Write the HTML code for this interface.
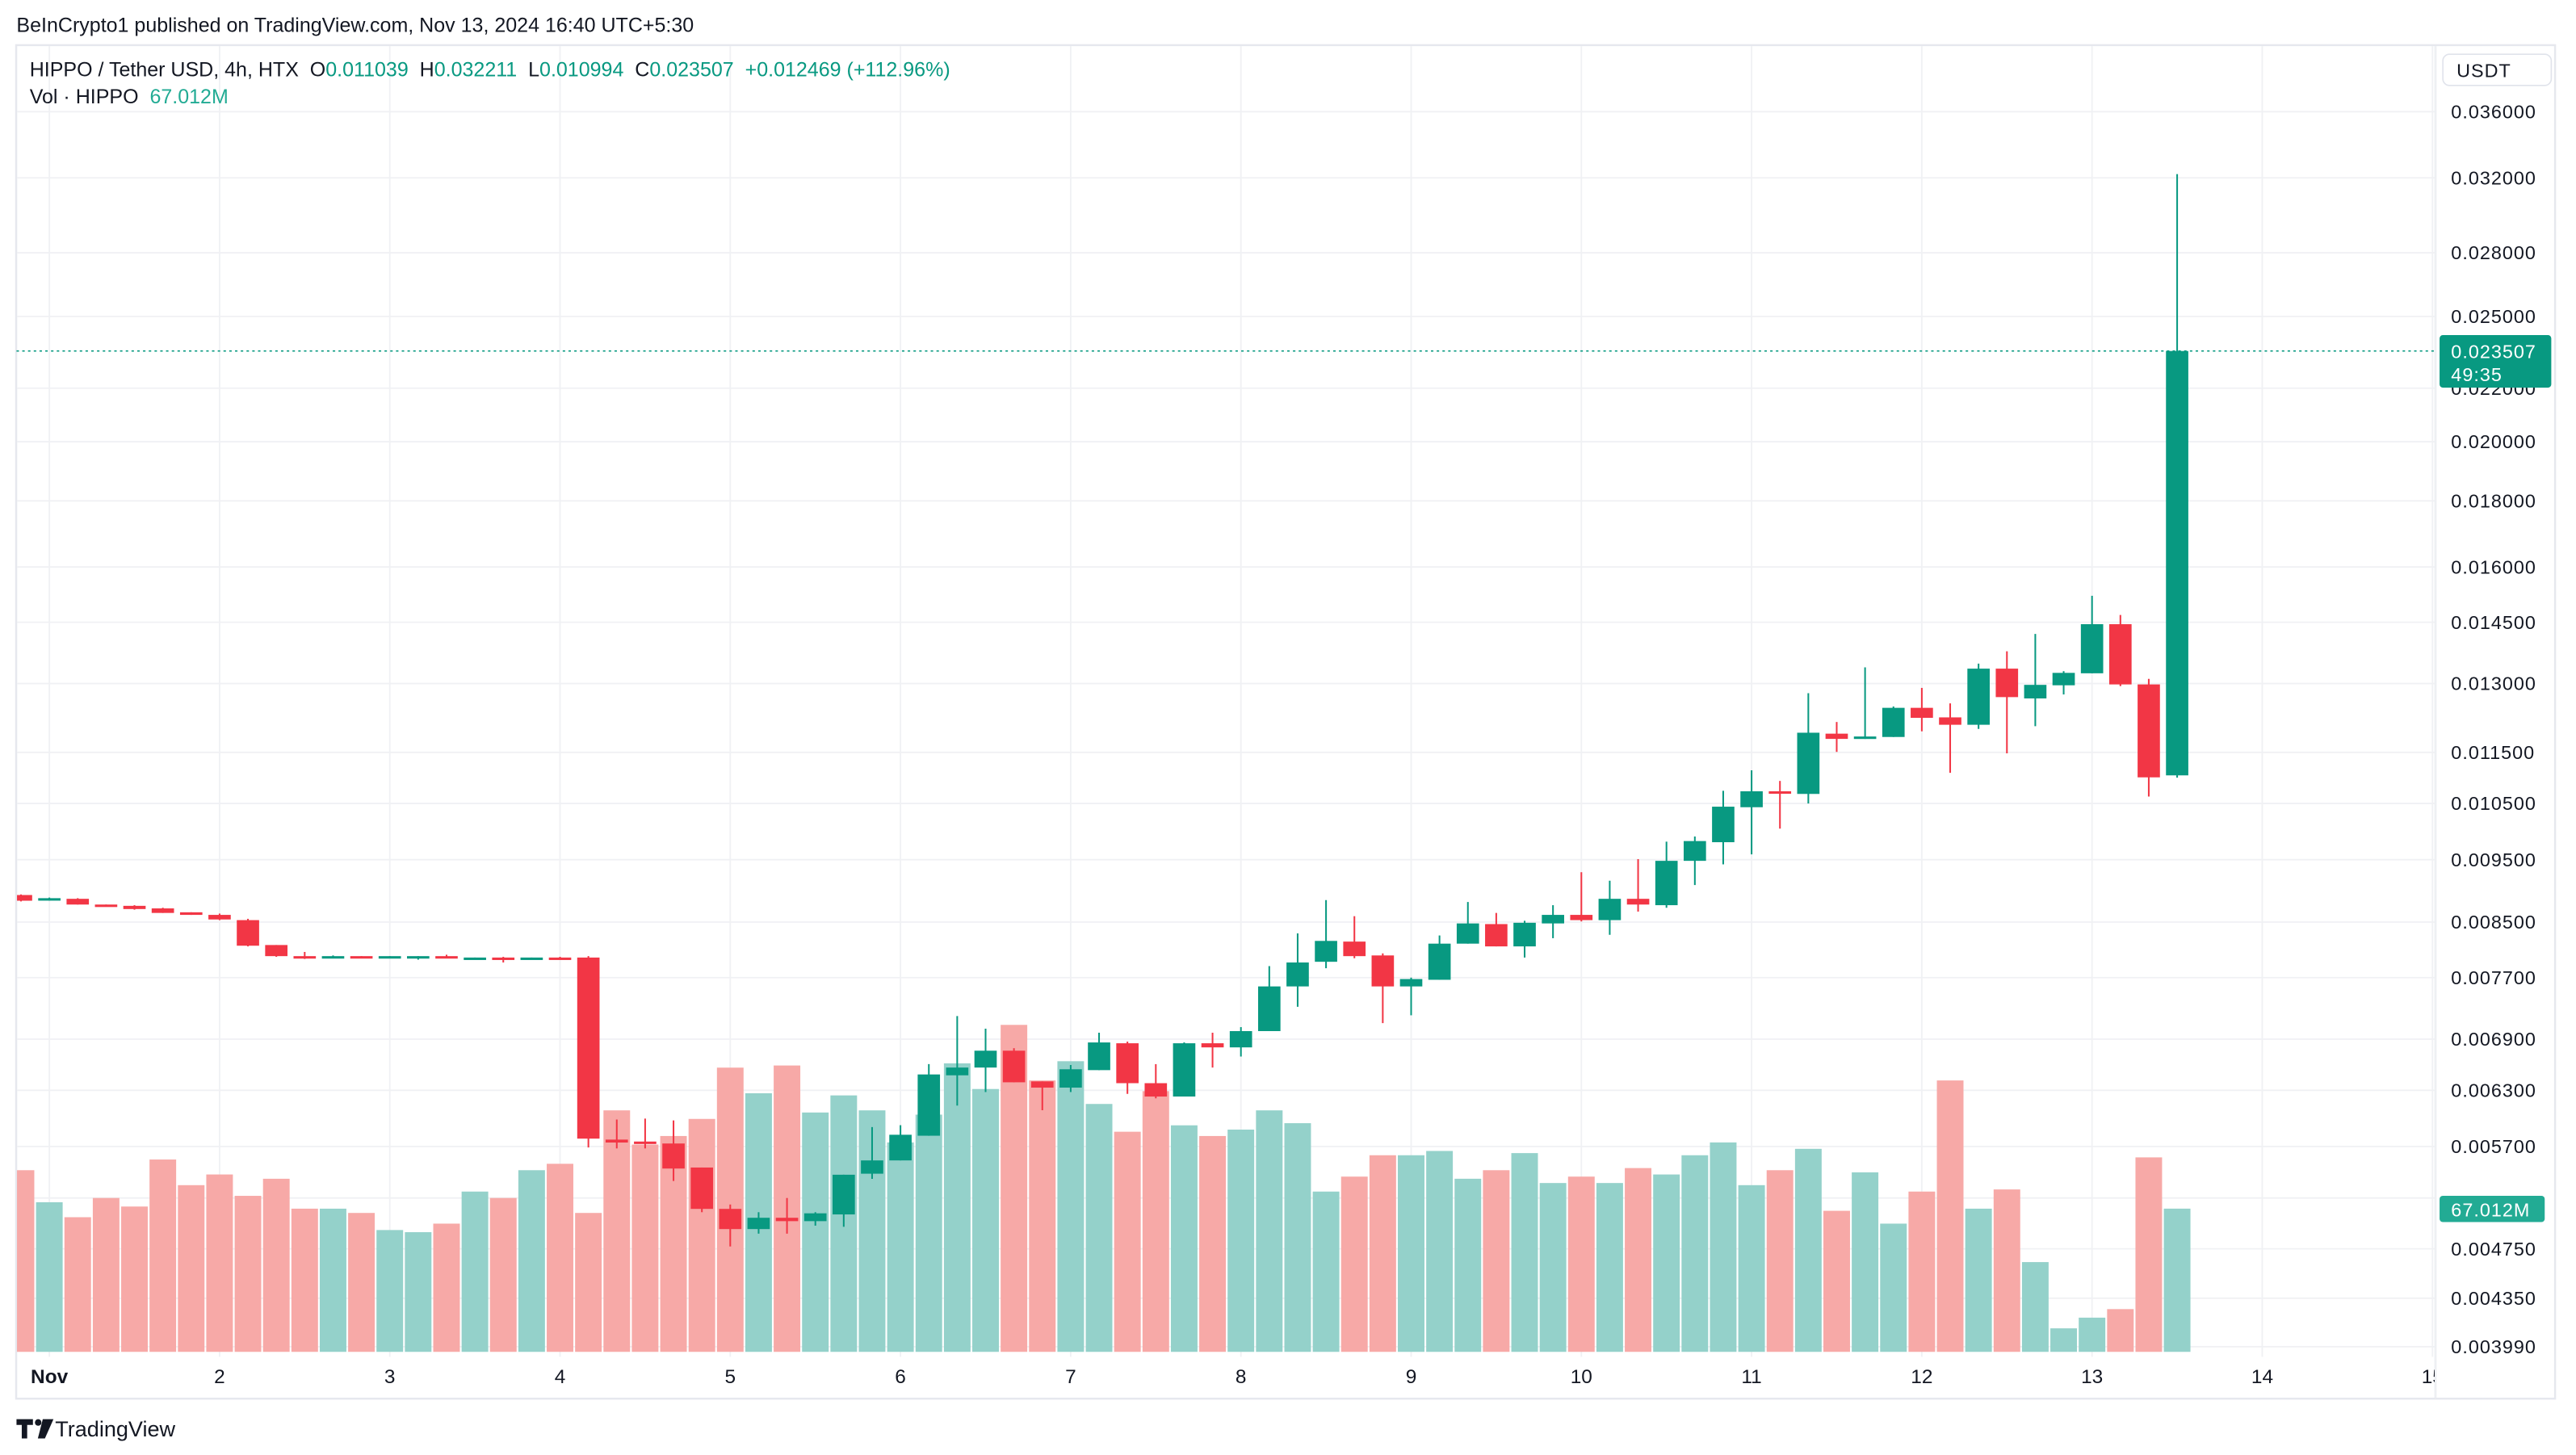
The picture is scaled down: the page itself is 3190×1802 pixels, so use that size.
<!DOCTYPE html>
<html><head><meta charset="utf-8"><style>
html,body{margin:0;padding:0;background:#fff;}
svg{display:block;}
text{font-family:"Liberation Sans",sans-serif;}
</style></head><body>
<svg id="chart" xmlns="http://www.w3.org/2000/svg" width="3190" height="1802" viewBox="0 0 1568 885.8">
<rect x="0" y="0" width="1568" height="885.8" fill="#ffffff"/>
<text x="10" y="19.5" font-size="12.3" fill="#131722">BeInCrypto1 published on TradingView.com, Nov 13, 2024 16:40 UTC+5:30</text>
<rect x="9.8" y="27.5" width="1545.5" height="824" fill="none" stroke="#e6e8ee" stroke-width="1.2"/>
<g id="grid"></g>
<g clip-path="url(#plotclip)">
<g id="vols"></g>
<g id="candles"></g>
</g>
<defs>
<clipPath id="plotclip"><rect x="10.3" y="28" width="1471.7" height="798"/></clipPath>
<clipPath id="timeclip"><rect x="10.3" y="826" width="1471.7" height="25"/></clipPath>
</defs>
<line x1="10" y1="213.7" x2="1482" y2="213.7" stroke="#089981" stroke-width="0.8" stroke-dasharray="1.5,2"/>
<line x1="1482.5" y1="28" x2="1482.5" y2="851" stroke="#eef0f3" stroke-width="1.4"/>
<g id="yaxis"></g>
<g id="xaxis" clip-path="url(#timeclip)"></g>
<rect x="1487" y="33" width="66" height="19" rx="4" fill="#fff" stroke="#e0e3eb" stroke-width="0.8"/>
<text x="1512" y="47" font-size="11.5" fill="#131722" text-anchor="middle" letter-spacing="0.5">USDT</text>
<g>
<rect x="1485" y="204" width="68" height="32" rx="2" fill="#089981"/>
<text x="1492" y="218" font-size="11.5" fill="#fff" letter-spacing="0.5">0.023507</text>
<text x="1492" y="232" font-size="11.5" fill="#fff" letter-spacing="0.5">49:35</text>
</g>
<g>
<rect x="1485" y="728" width="64" height="16" rx="2" fill="#22ab94"/>
<text x="1492" y="740.5" font-size="11.5" fill="#fff" letter-spacing="0.5">67.012M</text>
</g>
<g>
<text x="18" y="46.5" font-size="12.3" fill="#131722" xml:space="preserve">HIPPO / Tether USD, 4h, HTX  O<tspan fill="#089981">0.011039</tspan>  H<tspan fill="#089981">0.032211</tspan>  L<tspan fill="#089981">0.010994</tspan>  C<tspan fill="#089981">0.023507</tspan>  <tspan fill="#089981">+0.012469 (+112.96%)</tspan></text>
<text x="18" y="63" font-size="12.3" fill="#131722" xml:space="preserve">Vol · HIPPO  <tspan fill="#22ab94">67.012M</tspan></text>
</g>
<g>
<path d="M10 864h10v3.5h-3.5v8.2H13.2v-8.2H10z" fill="#131722"/>
<circle cx="23.2" cy="866" r="2" fill="#131722"/>
<path d="M26 864h6.5l-5.2 11.7h-4.3z" fill="#131722"/>
<text x="33.5" y="874.5" font-size="13.3" fill="#131722">TradingView</text>
</g>
</svg>
<script>
const opens  = [0.00892,0.00885,0.00886,0.00877,0.00875,0.00871,0.00865,0.00861,0.00853,0.00816,0.00800,0.00799,0.00800,0.00799,0.00799,0.00800,0.00797,0.00798,0.00797,0.00798,0.00798,0.00577,0.00575,0.00573,0.00549,0.00510,0.00492,0.00502,0.00499,0.00505,0.00543,0.00556,0.00581,0.00647,0.00656,0.00676,0.00640,0.00633,0.00653,0.00685,0.00638,0.00623,0.00685,0.00680,0.00700,0.00758,0.00792,0.00821,0.00801,0.00758,0.00767,0.00818,0.00847,0.00814,0.00848,0.00861,0.00853,0.00886,0.00876,0.00948,0.00980,0.01043,0.01073,0.01068,0.01189,0.01178,0.01182,0.01245,0.01224,0.01208,0.01335,0.01266,0.01296,0.01324,0.01445,0.01298,0.011039];
const highs  = [0.00893,0.00888,0.00887,0.00877,0.00876,0.00872,0.00865,0.00863,0.00855,0.00816,0.00806,0.00801,0.00800,0.00800,0.00800,0.00802,0.00798,0.00799,0.00798,0.00799,0.00800,0.00598,0.00599,0.00597,0.00549,0.00514,0.00507,0.00520,0.00507,0.00542,0.00590,0.00592,0.00660,0.00719,0.00703,0.00679,0.00640,0.00659,0.00698,0.00687,0.00660,0.00686,0.00698,0.00705,0.00786,0.00833,0.00884,0.00859,0.00804,0.00770,0.00830,0.00881,0.00864,0.00852,0.00876,0.00929,0.00915,0.00951,0.00981,0.00990,0.01074,0.01114,0.01093,0.01278,0.01214,0.01338,0.01248,0.01290,0.01255,0.01347,0.01377,0.01420,0.01329,0.01520,0.01469,0.01311,0.032211];
const lows   = [0.00882,0.00883,0.00877,0.00874,0.00869,0.00864,0.00861,0.00853,0.00814,0.00799,0.00796,0.00799,0.00798,0.00797,0.00795,0.00797,0.00797,0.00791,0.00797,0.00796,0.00569,0.00568,0.00568,0.00536,0.00507,0.00477,0.00488,0.00488,0.00495,0.00494,0.00538,0.00556,0.00581,0.00613,0.00628,0.00639,0.00608,0.00628,0.00653,0.00626,0.00621,0.00623,0.00656,0.00669,0.00700,0.00731,0.00783,0.00797,0.00710,0.00720,0.00767,0.00818,0.00814,0.00798,0.00826,0.00851,0.00831,0.00866,0.00872,0.00908,0.00942,0.00959,0.01004,0.01050,0.01151,0.01178,0.01182,0.01194,0.01109,0.01199,0.01148,0.01205,0.01275,0.01324,0.01294,0.01063,0.010994];
const closes = [0.00883,0.00887,0.00877,0.00874,0.00870,0.00864,0.00861,0.00854,0.00815,0.00800,0.00799,0.00800,0.00799,0.00800,0.00800,0.00798,0.00798,0.00797,0.00798,0.00797,0.00578,0.00574,0.00573,0.00548,0.00510,0.00492,0.00502,0.00499,0.00506,0.00542,0.00556,0.00582,0.00648,0.00656,0.00676,0.00639,0.00633,0.00654,0.00686,0.00638,0.00623,0.00685,0.00680,0.00700,0.00758,0.00791,0.00822,0.00800,0.00758,0.00768,0.00818,0.00848,0.00814,0.00849,0.00861,0.00853,0.00886,0.00877,0.00948,0.00982,0.01044,0.01073,0.01069,0.01191,0.01178,0.01183,0.01245,0.01223,0.01208,0.01335,0.01269,0.01297,0.01325,0.01445,0.01298,0.01100,0.023507];
const volumes = [85,70,63,72,68,90,78,83,73,81,67,67,65,57,56,60,75,72,85,88,65,113,97,101,109,133,121,134,112,120,113,98,111,135,123,153,127,136,116,103,122,106,101,104,113,107,75,82,92,92,94,81,85,93,79,82,79,86,83,92,98,78,85,95,66,84,60,75,127,67,76,42,11,16,20,91,67.012];
const firstIndex = -1;
const priceTicks = [0.036,0.032,0.028,0.025,0.022,0.020,0.018,0.016,0.0145,0.013,0.0115,0.0105,0.0095,0.0085,0.0077,0.0069,0.0063,0.0057,0.0052,0.00475,0.00435,0.00399];
const priceTickLabels = ["0.036000","0.032000","0.028000","0.025000","0.022000","0.020000","0.018000","0.016000","0.014500","0.013000","0.011500","0.010500","0.009500","0.008500","0.007700","0.006900","0.006300","0.005700","0.005200","0.004750","0.004350","0.003990"];
const dayLabels = ["Nov","2","3","4","5","6","7","8","9","10","11","12","13","14","15"];

const NS = "http://www.w3.org/2000/svg";
const X0 = 30, STEP = 17.27, PER_DAY = 6;
function xPos(i){ return X0 + STEP * i; }
function yPrice(p){ return 68 + 341.8 * Math.log(0.036 / p); }
const VOL_BASE = 823, VOL_K = 1.301;
function yVol(v){ return VOL_BASE - v * VOL_K; }
function mk(tag, attrs, parent){ const e = document.createElementNS(NS, tag); for (const k in attrs) e.setAttribute(k, attrs[k]); parent.appendChild(e); return e; }

const grid = document.getElementById('grid');
const yaxis = document.getElementById('yaxis');
const xaxis = document.getElementById('xaxis');
priceTicks.forEach((p, k) => {
  const y = yPrice(p);
  const gl = mk('line', {x1:10.3, x2:1482, y1:y, y2:y, stroke:'#f0f1f4', 'stroke-width':0.9}, grid);
  
  
  if (k === 18) return;
  const t = mk('text', {x:1492, y:y+4, 'font-size':11.5, fill:'#131722', 'letter-spacing':0.5}, yaxis);
  t.textContent = priceTickLabels[k];
  
  
});
dayLabels.forEach((lab, d) => {
  const x = xPos(d * PER_DAY);
  const gl = mk('line', {x1:x, x2:x, y1:28, y2:826, stroke:'#f0f1f4', 'stroke-width':0.9}, grid);
  
  
  const t = mk('text', {x:x, y:842, 'font-size':12, fill:'#131722', 'text-anchor':'middle', 'font-weight': d === 0 ? 'bold' : 'normal'}, xaxis);
  t.textContent = lab;
  
  
});

const vg = document.getElementById('vols');
const cg = document.getElementById('candles');
volumes.forEach((v, k) => {
  const i = k + firstIndex;
  const up = closes[k] >= opens[k];
  const x = xPos(i);
  const yt = yVol(v);
  const r = mk('rect', {x:x-8.1, y:yt, width:16.2, height:VOL_BASE-yt, fill: up ? '#94d1ca' : '#f7a9a7'}, vg);
  
  
});
opens.forEach((o, k) => {
  const i = k + firstIndex;
  const c = closes[k];
  const up = c >= o;
  const col = up ? '#089981' : '#f23645';
  const x = xPos(i);
  const g = mk('g', {}, cg);
  
  
  mk('line', {x1:x, x2:x, y1:yPrice(highs[k]), y2:yPrice(lows[k]), stroke:col, 'stroke-width':1}, g);
  const yt = yPrice(Math.max(o, c)), yb = yPrice(Math.min(o, c));
  mk('rect', {x:x-6.8, y:yt, width:13.6, height:Math.max(1.5, yb-yt), fill:col}, g);
});
</script>
</body></html>
